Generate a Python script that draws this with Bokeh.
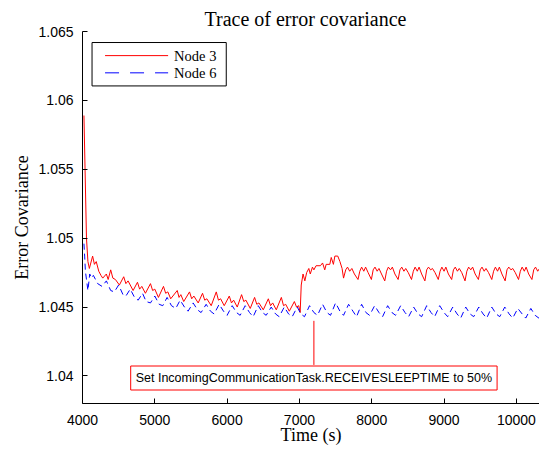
from bokeh.plotting import figure
from bokeh.models import ColumnDataSource, FixedTicker, Label, Range1d, BoxAnnotation
from bokeh.embed import file_html
from bokeh.resources import INLINE

# ---- data ----
node3_t = [4020, 4055, 4075, 4095, 4140, 4165, 4190, 4225, 4255, 4280, 4330, 4355, 4390, 4420, 4455, 4510,
           4570, 4600, 4630, 4700, 4760, 4790, 4820, 4870, 4940, 4970, 5000, 5050, 5120, 5150, 5180, 5220,
           5310, 5335, 5360, 5400, 5480, 5510, 5540, 5600, 5660, 5690, 5720, 5780, 5850, 5880, 5910, 5960,
           6030, 6060, 6090, 6140, 6200, 6230, 6260, 6320, 6380, 6410, 6440, 6500, 6570, 6600, 6630, 6680,
           6750, 6780, 6810, 6860, 6930, 6960, 6990, 7010, 7025, 7050, 7075, 7100, 7130, 7150, 7180, 7200,
           7230, 7290, 7320, 7350, 7370, 7420, 7440, 7470, 7490, 7530, 7560, 7590, 7610, 7640, 7665, 7695,
           7725, 7760, 7810, 7835, 7860, 7890, 7915, 7950, 7995, 8020, 8045, 8075, 8100, 8135, 8180, 8205,
           8230, 8260, 8285, 8320, 8365, 8390, 8415, 8445, 8470, 8505, 8550, 8575, 8600, 8630, 8655, 8690,
           8735, 8760, 8785, 8815, 8840, 8875, 8920, 8945, 8970, 9000, 9025, 9060, 9105, 9130, 9155, 9185,
           9210, 9245, 9290, 9315, 9340, 9370, 9395, 9430, 9475, 9500, 9525, 9555, 9580, 9615, 9660, 9685,
           9710, 9740, 9765, 9800, 9845, 9870, 9895, 9925, 9950, 9985, 10030, 10055, 10080, 10110, 10135,
           10170, 10215, 10240, 10265, 10295, 10320, 10355, 10400]
node3_v = [1.0589, 1.0500, 1.0483, 1.0478, 1.0487, 1.0481, 1.0483, 1.0476, 1.0473, 1.0471, 1.0474, 1.0470,
           1.0477, 1.0471, 1.0470, 1.0466, 1.0472, 1.0467, 1.0469, 1.0462, 1.0468, 1.0463, 1.0465, 1.0460,
           1.0467, 1.0462, 1.0463, 1.0457, 1.0465, 1.0460, 1.0461, 1.0456, 1.0462, 1.0457, 1.0459, 1.0454,
           1.0461, 1.0456, 1.0458, 1.0453, 1.0460, 1.0455, 1.0456, 1.0451, 1.0461, 1.0455, 1.0456, 1.0451,
           1.0458, 1.0453, 1.0455, 1.0450, 1.0459, 1.0454, 1.0455, 1.0449, 1.0457, 1.0452, 1.0453, 1.0448,
           1.0456, 1.0451, 1.0453, 1.0448, 1.0457, 1.0451, 1.0452, 1.0447, 1.0454, 1.0450, 1.0451, 1.0446,
           1.0466, 1.0474, 1.0469, 1.0475, 1.0478, 1.0474, 1.0479, 1.0477, 1.0480, 1.0480, 1.0482, 1.0477,
           1.0481, 1.0481, 1.0486, 1.0481, 1.0487, 1.0487, 1.0483, 1.0478, 1.0471, 1.0477, 1.0479, 1.0476,
           1.0478, 1.0474, 1.0470, 1.0476, 1.0479, 1.0476, 1.0479, 1.0475, 1.0470, 1.0477, 1.0479, 1.0476,
           1.0478, 1.0474, 1.0469, 1.0476, 1.0479, 1.0477, 1.0479, 1.0474, 1.0470, 1.0477, 1.0479, 1.0476,
           1.0478, 1.0475, 1.0470, 1.0476, 1.0479, 1.0476, 1.0479, 1.0474, 1.0469, 1.0477, 1.0479, 1.0477,
           1.0478, 1.0475, 1.0470, 1.0476, 1.0479, 1.0476, 1.0479, 1.0474, 1.0470, 1.0477, 1.0479, 1.0476,
           1.0478, 1.0475, 1.0469, 1.0476, 1.0479, 1.0477, 1.0479, 1.0474, 1.0470, 1.0477, 1.0479, 1.0476,
           1.0478, 1.0475, 1.0470, 1.0476, 1.0479, 1.0476, 1.0479, 1.0474, 1.0469, 1.0477, 1.0479, 1.0477,
           1.0478, 1.0475, 1.0470, 1.0476, 1.0479, 1.0476, 1.0479, 1.0474, 1.0470, 1.0477, 1.0479, 1.0476,
           1.0478, 1.0475, 1.0470]

node6_t = [4020, 4030, 4040, 4055, 4075, 4100, 4125, 4150, 4210, 4270, 4330, 4390, 4440, 4500, 4560, 4600,
           4660, 4720, 4770, 4830, 4880, 4940, 5000, 5060, 5110, 5170, 5230, 5290, 5350, 5410, 5460, 5530,
           5590, 5640, 5710, 5770, 5820, 5890, 5950, 6000, 6070, 6130, 6180, 6250, 6310, 6360, 6430, 6490,
           6540, 6610, 6670, 6720, 6790, 6850, 6900, 6970, 7020, 7070, 7140, 7200, 7250, 7320, 7380, 7430,
           7500, 7560, 7610, 7680, 7740, 7790, 7860, 7920, 7970, 8040, 8100, 8150, 8220, 8280, 8330, 8400,
           8460, 8510, 8580, 8640, 8690, 8760, 8820, 8870, 8940, 9000, 9050, 9120, 9180, 9230, 9300, 9360,
           9410, 9480, 9540, 9590, 9660, 9720, 9770, 9840, 9900, 9950, 10020, 10080, 10130, 10200, 10260,
           10310, 10380, 10400]
node6_v = [1.0496, 1.0487, 1.0476, 1.0470, 1.0462, 1.0474, 1.0471, 1.0473, 1.0467, 1.0465, 1.0469, 1.0462,
           1.0461, 1.0466, 1.0459, 1.0458, 1.0463, 1.0457, 1.0455, 1.0460, 1.0454, 1.0453, 1.0458, 1.0452,
           1.0451, 1.0457, 1.0451, 1.0449, 1.0455, 1.0450, 1.0447, 1.0453, 1.0448, 1.0446, 1.0452, 1.0447,
           1.0445, 1.0452, 1.0447, 1.0444, 1.0451, 1.0446, 1.0444, 1.0451, 1.0446, 1.0443, 1.0451, 1.0446,
           1.0444, 1.0450, 1.0445, 1.0443, 1.0450, 1.0445, 1.0443, 1.0450, 1.0445, 1.0443, 1.0451, 1.0446,
           1.0444, 1.0452, 1.0446, 1.0444, 1.0453, 1.0447, 1.0444, 1.0452, 1.0447, 1.0443, 1.0452, 1.0446,
           1.0444, 1.0451, 1.0446, 1.0443, 1.0451, 1.0446, 1.0444, 1.0451, 1.0446, 1.0443, 1.0450, 1.0445,
           1.0443, 1.0451, 1.0446, 1.0443, 1.0451, 1.0446, 1.0443, 1.0450, 1.0445, 1.0442, 1.0450, 1.0445,
           1.0443, 1.0450, 1.0445, 1.0442, 1.0450, 1.0445, 1.0443, 1.0450, 1.0445, 1.0442, 1.0449, 1.0445,
           1.0442, 1.0449, 1.0444, 1.0442, 1.0449, 1.0447]

series_names = ["Node 3", "Node 6"]
x_ticks = [4000, 5000, 6000, 7000, 8000, 9000, 10000]
x_tick_labels = ["4000", "5000", "6000", "7000", "8000", "9000", "10000"]
y_ticks = [1.04, 1.045, 1.05, 1.055, 1.06, 1.065]
y_tick_labels = ["1.04", "1.045", "1.05", "1.055", "1.06", "1.065"]

title_text = "Trace of error covariance"

annot_text = "Set IncomingCommunicationTask.RECEIVESLEEPTIME to 50%"
annot_x = 7200
annot_line_top = 1.0440
annot_line_bottom = 1.0408
annot_box_y = 1.03985

# legend placement (in axis units, since both ranges are fixed)
leg_left, leg_right, leg_top, leg_bottom = 4132, 5988, 1.06420, 1.06105
leg_swatch_x0, leg_swatch_x1, leg_text_x = 4312, 5184, 5267
leg_row_y = [1.06325, 1.06200]

SERIF = "Liberation Serif"
SANS = "Liberation Sans"
RED = "#ff0000"
BLUE = "#0000ff"
series_colors = [RED, BLUE]
series_dash_legend = ["solid", "14 11"]

p = figure(width=539, height=447, output_backend="svg", toolbar_location=None,
           x_range=Range1d(4000, 10320), y_range=Range1d(1.038, 1.065),
           min_border_left=82, min_border_right=0, min_border_top=31, min_border_bottom=40,
           title=title_text)
p.title.text_font = SERIF
p.title.text_font_size = "20px"
p.title.text_font_style = "normal"
p.title.text_color = "black"
p.title.align = "left"
p.title.offset = 122
p.title.standoff = 0
p.title.vertical_align = "top"
p.title.text_line_height = 1.0

p.outline_line_color = None
p.xgrid.visible = False
p.ygrid.visible = False
p.background_fill_color = "white"

for ax, ticks, labels in ((p.xaxis[0], x_ticks, x_tick_labels), (p.yaxis[0], y_ticks, y_tick_labels)):
    ax.ticker = FixedTicker(ticks=ticks)
    ax.major_label_overrides = {t: l for t, l in zip(ticks, labels)}
    ax.major_tick_in = 5
    ax.major_tick_out = 0
    ax.minor_tick_line_color = None
    ax.axis_line_color = "black"
    ax.major_tick_line_color = "black"
    ax.major_label_text_font = SANS
    ax.major_label_text_font_size = "14px"
    ax.major_label_text_color = "black"
    ax.axis_label_text_font = SERIF
    ax.axis_label_text_font_size = "18px"
    ax.axis_label_text_font_style = "normal"
    ax.axis_label_text_color = "black"
    ax.axis_label_text_line_height = 1.0
    ax.major_label_text_line_height = 1.0

p.xaxis.axis_label = "Time (s)"
p.yaxis.axis_label = "Error Covariance"
p.xaxis.major_label_standoff = 11
p.xaxis.axis_label_standoff = -3
p.yaxis.major_label_standoff = 9
p.yaxis.axis_label_standoff = 3

src3 = ColumnDataSource(dict(t=node3_t, v=node3_v))
src6 = ColumnDataSource(dict(t=node6_t, v=node6_v))
p.line("t", "v", source=src3, line_color=RED, line_width=1)
p.line("t", "v", source=src6, line_color=BLUE, line_width=1, line_dash="6 4")

# annotation
p.segment(x0=[annot_x], y0=[annot_line_top], x1=[annot_x], y1=[annot_line_bottom],
          line_color=RED, line_width=1)
lab = Label(x=annot_x, y=annot_box_y, text=annot_text, text_align="center", text_baseline="middle",
            text_font=SANS, text_font_size="12.5px", text_color="black",
            border_line_color=RED, border_line_width=1, background_fill_color="white",
            padding=5)
p.add_layout(lab)

# legend (drawn by hand)
p.add_layout(BoxAnnotation(left=leg_left, right=leg_right, top=leg_top, bottom=leg_bottom,
                           fill_color=None, line_color="black", line_width=1, line_alpha=1.0,
                           level="underlay"))
for name, color, dash, yrow in zip(series_names, series_colors, series_dash_legend, leg_row_y):
    p.segment(x0=[leg_swatch_x0], y0=[yrow], x1=[leg_swatch_x1], y1=[yrow],
              line_color=color, line_width=1, line_dash=dash)
    p.add_layout(Label(x=leg_text_x, y=yrow, text=name, text_baseline="middle", text_align="left",
                       text_font=SERIF, text_font_size="14.5px", text_color="black"))

open("out.html", "w").write(file_html(p, INLINE))
